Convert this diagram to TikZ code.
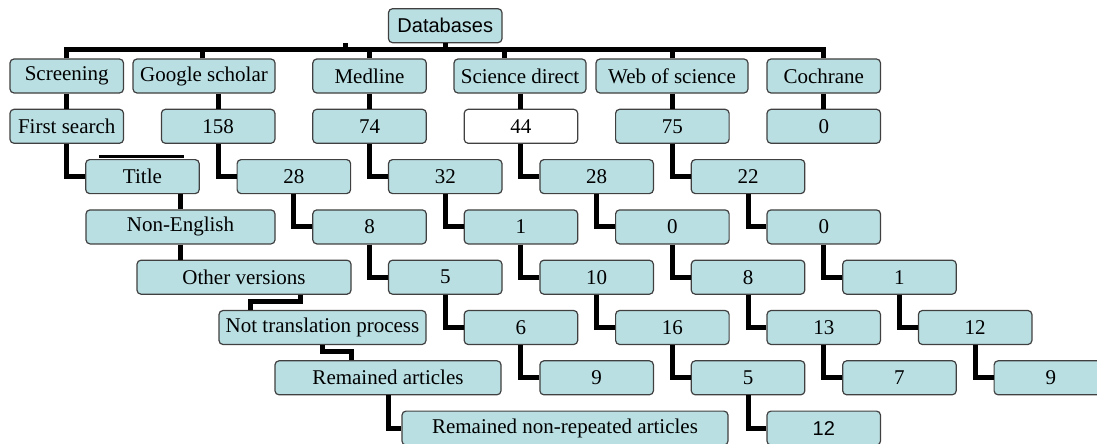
\documentclass[tikz,border=0pt]{standalone}
\usepackage{fontspec}
\setmainfont{Liberation Serif}
\setsansfont{Liberation Sans}

\definecolor{bleupale}{RGB}{185,223,227}
\definecolor{bord}{RGB}{64,64,64}

\tikzset{
	boite/.style={draw=bord, fill=bleupale, line width=1.2pt, rounded corners=4pt, minimum width=113.5pt, minimum height=34pt, inner sep=0pt, font=\fontsize{21}{24}\selectfont},
	lien/.style={line width=5pt, black},
}

\begin{document}
\begin{tikzpicture}[x=1pt, y=-1pt]

	\def\u{75.7} % pas entre colonnes
	
	\def\r{50.3} % pas entre lignes
	
	\def\xo{66.75} % centre de la premiere colonne
	
	\def\yo{25.7} % centre de la premiere ligne
	
	\useasboundingbox (0,0) rectangle (1097,444);
	
	\node[boite, font=\sffamily\fontsize{20}{24}\selectfont] (db) at ({\xo+5*\u},{\yo}) {Databases};
	
	\node[boite] (scr) at ({\xo},{\yo+\r}) {Screening};
	\node[boite, minimum width=142pt] (gs) at (204,{\yo+\r}) {Google scholar};
	\node[boite] (med) at ({\xo+4*\u},{\yo+\r}) {Medline};
	\node[boite, minimum width=132pt] (sd) at (520,{\yo+\r}) {Science direct};
	\node[boite, minimum width=152pt] (wos) at (672,{\yo+\r}) {Web of science};
	\node[boite] (coch) at ({\xo+10*\u},{\yo+\r}) {Cochrane};
	
	\node[boite] (first) at ({\xo},{\yo+2*\r}) {First search};
	\node[boite] (title) at ({\xo+\u},{\yo+3*\r}) {Title};
	\node[boite, minimum width=189pt] (nonen) at (180.5,{\yo+4*\r}) {Non-English};
	\node[boite, minimum width=214pt] (other) at (244,{\yo+5*\r}) {Other versions};
	\node[boite, minimum width=207pt] (nottr) at (322.5,{\yo+6*\r}) {Not translation process};
	\node[boite, minimum width=226pt] (rem) at (388,{\yo+7*\r}) {Remained articles};
	\node[boite, minimum width=326pt] (remnr) at (565,{\yo+8*\r}) {Remained non-repeated articles};
	
	\foreach \k/\rr/\txt/\nom in {2/2/158/g2, 3/3/28/g3, 4/4/8/g4, 5/5/5/g5, 6/6/6/g6, 7/7/9/g7,
		4/2/74/m2, 5/3/32/m3, 6/4/1/m4, 7/5/10/m5, 8/6/16/m6, 9/7/5/m7,
		7/3/28/s3, 8/4/0/s4, 9/5/8/s5, 10/6/13/s6, 11/7/7/s7,
		8/2/75/w2, 9/3/22/w3, 10/4/0/w4, 11/5/1/w5, 12/6/12/w6, 13/7/9/w7,
		10/2/0/c2} {
		\node[boite] (\nom) at ({\xo+\k*\u},{\yo+\rr*\r}) {\txt};
	}
	\node[boite, fill=white] (s2) at ({\xo+6*\u},{\yo+2*\r}) {44};
	\node[boite, font=\sffamily\fontsize{20}{24}\selectfont] (m8) at ({\xo+10*\u},{\yo+8*\r}) {12};
	
	% barre du haut
	\coordinate (bus) at (0,50);
	\draw[lien] (scr.north) -- (scr.north |- bus) -- (coch.north |- bus) -- (coch.north);
	\draw[lien] (db.south) -- (db.south |- bus);
	\draw[lien] (345,43) -- (345,50);
	\foreach \nom/\dx in {gs/-2, med/0, sd/-16, wos/0} {
		\draw[lien] ([xshift=\dx pt]\nom.north) -- ++(0,-9);
	}
	
	\foreach \haut/\bas in {scr/first, gs/g2, med/m2, sd/s2, wos/w2, coch/c2} {
		\draw[lien] (\bas.north |- \haut.south) -- (\bas.north);
	}
	
	\foreach \haut/\bas in {first/title, g2/g3, g3/g4, g4/g5, g5/g6, g6/g7,
		m2/m3, m3/m4, m4/m5, m5/m6, m6/m7, m7/m8,
		s2/s3, s3/s4, s4/s5, s5/s6, s6/s7,
		w2/w3, w3/w4, w4/w5, w5/w6, w6/w7, rem/remnr} {
		\draw[lien] (\haut.south) |- (\bas.west);
	}
	
	\draw[lien] (title.south -| nonen.north) -- (nonen.north);
	\draw[lien] (nonen.south) -- (nonen.south |- other.north);
	\draw[lien] ([xshift=56pt]other.south) -- ++(0,7) -| ([xshift=-72.5pt]nottr.north);
	\draw[lien] (nottr.south) -- ++(0,6) -| ([xshift=-37pt]rem.north);
	\draw[line width=3pt] ([shift={(14,-3)}]title.north west) -- ([shift={(-16,-3)}]title.north east);

\end{tikzpicture}
\end{document}
